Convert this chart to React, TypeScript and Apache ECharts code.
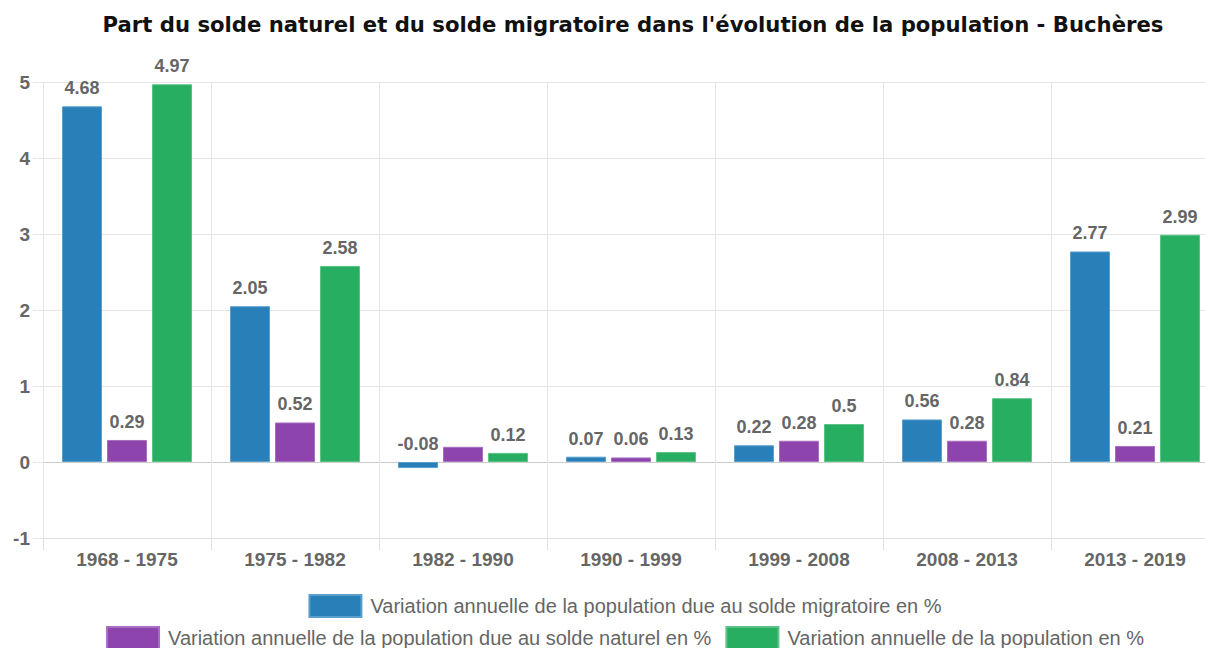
import React, { useEffect, useRef } from "react";
import * as echarts from "echarts";

const categories = ["1968 - 1975", "1975 - 1982", "1982 - 1990", "1990 - 1999", "1999 - 2008", "2008 - 2013", "2013 - 2019"];
const migratoire = [4.68, 2.05, -0.08, 0.07, 0.22, 0.56, 2.77];
const naturel = [0.29, 0.52, 0.2, 0.06, 0.28, 0.28, 0.21];
const total = [4.97, 2.58, 0.12, 0.13, 0.5, 0.84, 2.99];
const hiddenNaturelLabels = [2];
const seriesNames = [
  "Variation annuelle de la population due au solde migratoire en %",
  "Variation annuelle de la population due au solde naturel en %",
  "Variation annuelle de la population en %",
];
const titleText = "Part du solde naturel et du solde migratoire dans l'évolution de la population - Buchères";

const FONT = "'Liberation Sans', Arial, sans-serif";

export default function App() {
  const ref = useRef<HTMLDivElement>(null);
  useEffect(() => {
    if (!ref.current) return;
    const chart = echarts.init(ref.current, null, { renderer: "svg" });
    const label = {
      show: true,
      position: "top" as const,
      distance: 9,
      color: "#666",
      fontWeight: "bold" as const,
      fontSize: 18,
      fontFamily: FONT,
    };
    const mk = (name: string, data: number[], color: string, border: string, hidden: number[] = []) => ({
      name,
      type: "bar" as const,
      barWidth: 40,
      barGap: "12.5%",
      data: data.map((v, i) => (hidden.includes(i) ? { value: v, label: { show: false } } : v)),
      itemStyle: { color, borderColor: border, borderWidth: 1 },
      label,
    });
    const legendText = { fontFamily: FONT, fontSize: 20, color: "#666", padding: [0, 0, 0, 4] };
    chart.setOption({
      animation: false,
      title: {
        text: titleText,
        left: 633,
        top: 14,
        padding: 0,
        textAlign: "center",
        textStyle: { fontFamily: "'DejaVu Sans', Verdana, sans-serif", fontWeight: "bold", fontSize: 21.2, color: "#111" },
      },
      legend: [
        {
          data: [seriesNames[0]],
          top: 594,
          left: "center",
          padding: 0,
          itemWidth: 52,
          itemHeight: 22,
          icon: "rect",
          textStyle: legendText,
        },
        {
          data: [seriesNames[1], seriesNames[2]],
          top: 626,
          left: "center",
          padding: 0,
          itemGap: 14,
          itemWidth: 52,
          itemHeight: 22,
          icon: "rect",
          textStyle: legendText,
        },
      ],
      grid: { left: 43, right: 31, top: 82, height: 456 },
      xAxis: {
        type: "category",
        data: categories,
        axisLine: { onZero: false, lineStyle: { color: "#e0e0e0" } },
        axisTick: { show: true, length: 12, lineStyle: { color: "#e0e0e0" } },
        splitLine: { show: true, lineStyle: { color: "#e6e6e6" } },
        axisLabel: { color: "#666", fontWeight: "bold", fontSize: 19, fontFamily: FONT, margin: 12 },
      },
      yAxis: {
        type: "value",
        min: -1,
        max: 5,
        interval: 1,
        axisLine: { show: false },
        axisTick: { show: true, length: 10, lineStyle: { color: "#e6e6e6" } },
        splitLine: { lineStyle: { color: ["#e6e6e6", "#cccccc", "#e6e6e6", "#e6e6e6", "#e6e6e6", "#e6e6e6", "#e6e6e6"] } },
        axisLabel: { color: "#666", fontWeight: "bold", fontSize: 19, fontFamily: FONT, margin: 13 },
      },
      series: [
        mk(seriesNames[0], migratoire, "#2980b9", "#5b9fcc"),
        mk(seriesNames[1], naturel, "#8e44ad", "#a66fc0", hiddenNaturelLabels),
        mk(seriesNames[2], total, "#27ae60", "#5cc285"),
      ],
    });
    return () => chart.dispose();
  }, []);
  return (
    <div style={{ position: "fixed", left: 0, top: 0, width: 1205, height: 648, overflow: "hidden", background: "#fff" }}>
      <div ref={ref} style={{ width: 1250, height: 648 }} />
    </div>
  );
}
